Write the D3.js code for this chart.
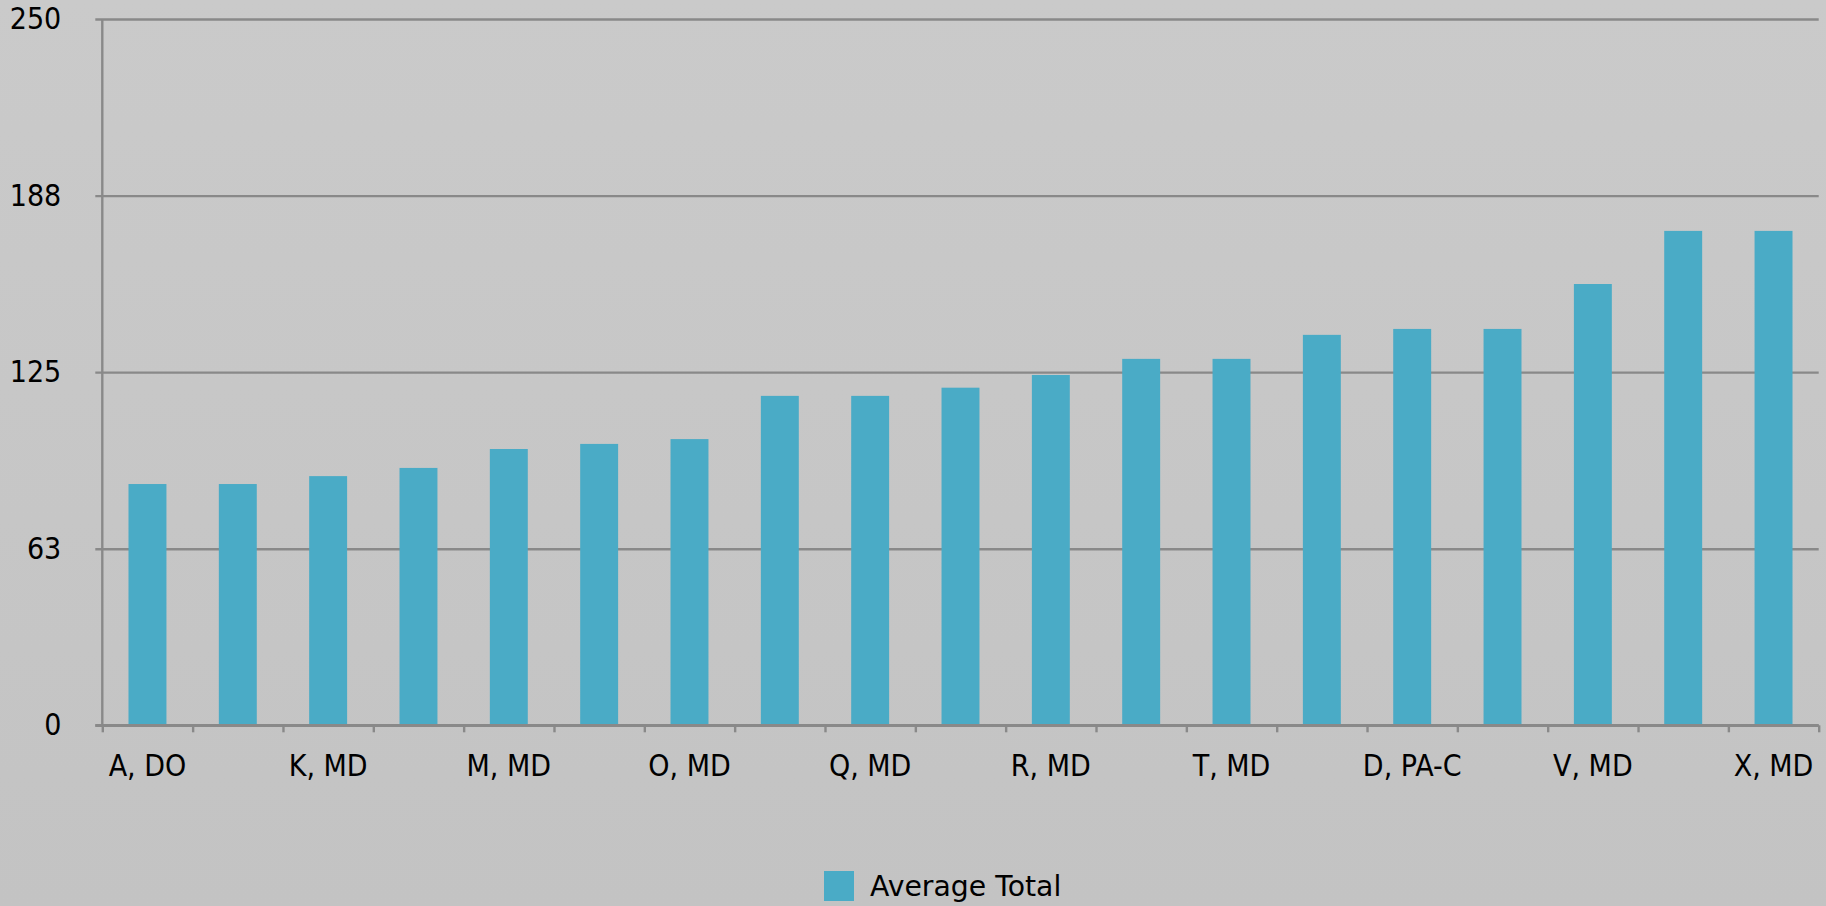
<!DOCTYPE html>
<html>
<head>
<meta charset="utf-8">
<script src="https://cdn.jsdelivr.net/npm/d3@7"></script>
<style>
  html, body { margin: 0; padding: 0; }
  body { width: 1826px; height: 906px; overflow: hidden; }
  svg { display: block; }
  text { font-family: "DejaVu Sans Condensed", "DejaVu Sans", sans-serif; fill: #000; }
</style>
</head>
<body>
<svg id="chart" width="1826" height="906"></svg>
<script>
// Providers, sorted by average total
const providers = [
  "A, DO", "B, MD", "K, MD", "L, MD", "M, MD", "N, MD", "O, MD", "P, MD",
  "Q, MD", "Q, DO", "R, MD", "S, MD", "T, MD", "U, MD", "D, PA-C", "E, PA-C",
  "V, MD", "W, MD", "X, MD"
];
const averageTotal = [
  85.4, 85.4, 88.2, 91.1, 97.8, 99.6, 101.3, 116.6,
  116.6, 119.5, 124.0, 129.7, 129.7, 138.2, 140.3, 140.3,
  156.2, 175.0, 175.0
];
const yTicks = [0, 62.5, 125, 187.5, 250];
const seriesName = "Average Total";

const W = 1826, H = 906;
const margin = { top: 19, left: 102.3, right: W - 1818.7, bottom: H - 725.3 };
const innerW = W - margin.left - margin.right;
const innerH = H - margin.top - margin.bottom;
const axisFont = "'DejaVu Sans Condensed', 'DejaVu Sans', sans-serif";
const legendFont = "'DejaVu Sans', sans-serif";

const svg = d3.select("#chart");

// soft grey background
const defs = svg.append("defs");
const grad = defs.append("linearGradient").attr("id", "bg").attr("x1", 0).attr("y1", 0).attr("x2", 0).attr("y2", 1);
grad.append("stop").attr("offset", "0%").attr("stop-color", "#cacaca");
grad.append("stop").attr("offset", "100%").attr("stop-color", "#c3c3c3");
svg.append("rect").attr("width", W).attr("height", H).attr("fill", "url(#bg)");

const g = svg.append("g").attr("transform", `translate(${margin.left},${margin.top})`);

const x = d3.scaleBand().domain(providers).range([0, innerW])
  .paddingInner(0.58).paddingOuter(0.29);
const y = d3.scaleLinear().domain([0, 250]).range([innerH, 0]);
const slot = d3.scaleLinear().domain([0, providers.length]).range([0, innerW]);

const gridColor = "#898989";

// horizontal gridlines with short ticks to the left of the axis
const yAxis = g.append("g")
  .call(d3.axisLeft(y).tickValues(yTicks).tickFormat(d3.format(".0f"))
    .tickSize(-innerW - 7).tickPadding(34));
yAxis.select(".domain").remove();
yAxis.selectAll(".tick line")
  .attr("x1", -7).attr("x2", innerW)
  .attr("stroke", gridColor).attr("stroke-width", 2.4);
yAxis.selectAll(".tick text")
  .attr("x", -41)
  .style("font-family", axisFont).style("font-size", "30px").attr("fill", "#000");

// vertical axis line
g.append("line").attr("x1", 0).attr("x2", 0).attr("y1", 0).attr("y2", innerH)
  .attr("stroke", gridColor).attr("stroke-width", 2.4);

// bars
g.selectAll("rect.bar").data(providers).join("rect")
  .attr("class", "bar")
  .attr("x", d => x(d))
  .attr("width", x.bandwidth())
  .attr("y", (d, i) => y(averageTotal[i]))
  .attr("height", (d, i) => innerH - y(averageTotal[i]))
  .attr("fill", "#4aabc6");

// category boundary ticks along the baseline
const xTickAxis = g.append("g").attr("transform", `translate(0,${innerH})`)
  .call(d3.axisBottom(slot).tickValues(d3.range(providers.length + 1)).tickFormat("").tickSize(7).tickSizeOuter(0));
xTickAxis.select(".domain").attr("stroke", gridColor).attr("stroke-width", 2.4)
  .attr("d", `M-7,0H${innerW}`);
xTickAxis.selectAll(".tick line").attr("stroke", gridColor).attr("stroke-width", 2.4);

// category labels, every other provider
const xLabelAxis = g.append("g").attr("transform", `translate(0,${innerH})`)
  .call(d3.axisBottom(x).tickSize(0).tickPadding(29)
    .tickFormat((d, i) => i % 2 === 0 ? d : ""));
xLabelAxis.select(".domain").remove();
xLabelAxis.selectAll(".tick text")
  .style("font-family", axisFont).style("font-size", "30px").attr("fill", "#000");

// legend
const legend = svg.append("g").attr("transform", "translate(824,871)");
legend.append("rect").attr("width", 30).attr("height", 30).attr("fill", "#4aabc6");
legend.append("text").attr("x", 46).attr("y", 25)
  .style("font-family", legendFont).style("font-size", "28.3px").text(seriesName);
</script>
</body>
</html>
